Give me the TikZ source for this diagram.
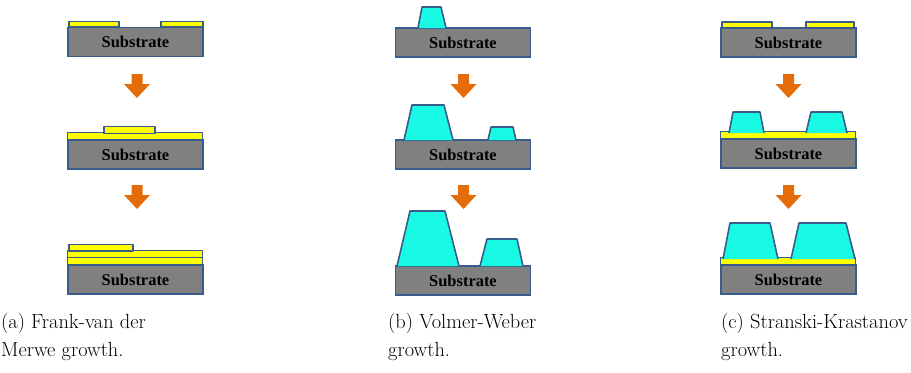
\documentclass[tikz,border=0pt]{standalone}
\usepackage{fontspec}
\newfontfamily\subsfont{Liberation Serif}
\definecolor{edgeblue}{RGB}{56,93,138}
\definecolor{subgray}{RGB}{128,128,128}
\definecolor{filmyellow}{RGB}{255,255,0}
\definecolor{islandcyan}{RGB}{24,250,228}
\definecolor{arroworange}{RGB}{228,108,10}
\tikzset{
  substrate/.style={draw=edgeblue,fill=subgray,line width=1.6bp,
    minimum width=135bp,minimum height=29bp,inner sep=0pt,
    font=\subsfont\bfseries\fontsize{16.5}{17}\selectfont},
  film/.style={draw=edgeblue,fill=filmyellow,line width=1.4bp,line join=round},
  island/.style={draw=edgeblue,fill=islandcyan,line width=1.6bp,line join=round},
  caption/.style={anchor=north west,align=left,inner sep=0pt,
    font=\fontsize{20.5}{28.5}\selectfont},
}
% block arrow pointing down: \growarrow{x}{top y}
\newcommand{\growarrow}[2]{%
  \fill[arroworange] (#1-5.5,#2) -- (#1+5.5,#2) -- (#1+5.5,#2+10) -- (#1+13,#2+10)
    -- (#1,#2+24) -- (#1-13,#2+10) -- (#1-5.5,#2+10) -- cycle;}
\begin{document}
\begin{tikzpicture}[x=1bp,y=-1bp]
\useasboundingbox (0,0) rectangle (911,372);
%% (a) Frank-van der Merwe
\node (subA1) at (135.5,42) [substrate] {Substrate};
\draw [film] (69,27) rectangle (119,21.5);
\draw [film] (161,27) rectangle (203,21.5);
\growarrow{137}{74}
\node (subA2) at (135.5,154.5) [substrate] {Substrate};
\draw [film] (subA2.north west) rectangle ++(135,-6.5);
\draw [film] (104,133.5) rectangle (155,126.5);
\growarrow{137}{185}
\node (subA3) at (135.5,279.5) [substrate] {Substrate};
\draw [film] (subA3.north west) rectangle ++(135,-7);
\draw [film] ([yshift=7bp]subA3.north west) rectangle ++(135,-7);
\draw [film] (69,251) rectangle (133,244.5);
%% (b) Volmer-Weber
\node (subB1) at (463,42.5) [substrate] {Substrate};
\draw [island] (418,28) -- (422,7) -- (441,7) -- (446,28);
\growarrow{463.5}{74}
\node (subB2) at (463,154.5) [substrate] {Substrate};
\draw [island] (404,140) -- (412,105) -- (444,105) -- (453,140);
\draw [island] (488,140) -- (491,127) -- (513,127) -- (516,140);
\growarrow{463.5}{185}
\node (subB3) at (463,280.5) [substrate] {Substrate};
\draw [island] (397,266) -- (410,211) -- (445,211) -- (459,266);
\draw [island] (480,266) -- (487,239) -- (517,239) -- (523,266);
%% (c) Stranski-Krastanov
\node (subC1) at (788.5,42.5) [substrate] {Substrate};
\draw [film] (722,28) rectangle (772,22);
\draw [film] (806,28) rectangle (854,22);
\growarrow{788.5}{74}
\node (subC2) at (788.5,153.5) [substrate] {Substrate};
\draw [film] (subC2.north west) rectangle ++(135,-6.5);
\draw [island] (729,133) -- (733,112) -- (760,112) -- (764,133);
\draw [island] (806,133) -- (811,112) -- (842,112) -- (847,133);
\growarrow{788.5}{185}
\node (subC3) at (788.5,279.5) [substrate] {Substrate};
\draw [film] (subC3.north west) rectangle ++(135,-6.5);
\draw [island] (723,259) -- (730,223) -- (770,223) -- (778,259);
\draw [island] (791,259) -- (799,223) -- (846,223) -- (855,259);
%% captions
\node (capA) at (1,313) [caption] {(a) Frank-van der\\Merwe growth.};
\node (capB) at (388,313) [caption] {(b) Volmer-Weber\\growth.};
\node (capC) at (721,313) [caption] {(c) Stranski-Krastanov\\growth.};
\end{tikzpicture}
\end{document}
